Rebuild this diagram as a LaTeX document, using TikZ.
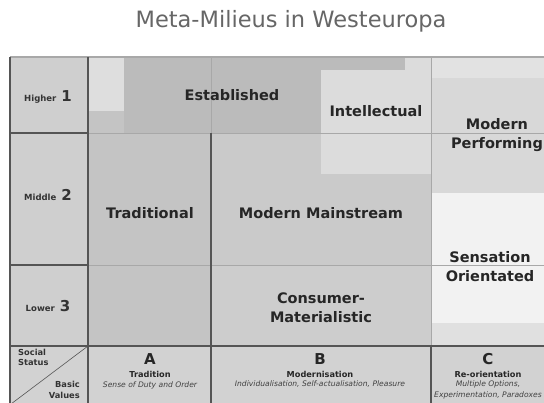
\documentclass[tikz,border=0pt]{standalone}
\usepackage{fontspec}
\setmainfont{DejaVu Sans}
\definecolor{cLeft}{HTML}{CFCFCF}
\definecolor{cBottom}{HTML}{D2D2D2}
\definecolor{cLightA}{HTML}{DEDEDE}
\definecolor{cA}{HTML}{C4C4C4}
\definecolor{cEst}{HTML}{BBBBBB}
\definecolor{cInt}{HTML}{DCDCDC}
\definecolor{cB}{HTML}{CACACA}
\definecolor{cBlow}{HTML}{CDCDCD}
\definecolor{cCtop}{HTML}{E2E2E2}
\definecolor{cPerf}{HTML}{D8D8D8}
\definecolor{cSens}{HTML}{F2F2F2}
\definecolor{cClow}{HTML}{E0E0E0}
\definecolor{cLine}{HTML}{555555}
\definecolor{cFaint}{HTML}{A8A8A8}
\definecolor{cTitle}{HTML}{666666}
\newcommand{\mybignum}{\bfseries\fontsize{15}{16}\selectfont}
\tikzset{
  milieu/.style={font=\bfseries\fontsize{14.5}{19.5}\selectfont, text=black!85, align=center, inner sep=0pt},
  rowlab/.style={font=\bfseries\fontsize{8.5}{9}\selectfont, text=black!80, inner sep=0pt},
  colhead/.style={font=\bfseries\fontsize{15}{16}\selectfont, text=black!85, inner sep=0pt},
  colname/.style={font=\bfseries\fontsize{8.2}{9}\selectfont, text=black!85, inner sep=0pt},
  coldesc/.style={font=\itshape\fontsize{7.6}{11}\selectfont, text=black!75, align=center, inner sep=0pt},
  mainline/.style={draw=cLine, line width=1.1pt},
  faintline/.style={draw=cFaint, line width=0.8pt},
}
\begin{document}
\begin{tikzpicture}[x=1pt,y=-1pt]
\useasboundingbox (0,0) rectangle (544,403);
\begin{scope}
\clip (0,0) rectangle (544,403);
\fill[white] (0,0) rectangle (544,403);
% left column and bottom row
\fill[cLeft] (10,57) rectangle (88,346);
\fill[cBottom] (10,346) rectangle (560,420);
% column A
\fill[cA] (88,57) rectangle (211,346);
\fill[cLightA] (88,57) rectangle (124,111);
% Established
\fill[cEst] (124,57) rectangle (405,133);
% column B
\fill[cB] (211,133) rectangle (431,265);
\fill[cBlow] (211,265) rectangle (431,346);
% Intellectual
\fill[cInt] (321,70) rectangle (431,174);
\fill[cInt] (405,57) rectangle (431,70);
% column C
\fill[cCtop] (431,57) rectangle (560,78);
\fill[cPerf] (431,78) rectangle (560,193);
\fill[cSens] (431,193) rectangle (560,323);
\fill[cClow] (431,323) rectangle (560,346);
% faint lines
\draw[faintline] (88,133) -- (560,133);
\draw[faintline] (88,265) -- (560,265);
\draw[faintline] (211,57) -- (211,133);
\draw[faintline] (431,57) -- (431,346);
% main lines
\draw[draw=cFaint, line width=1.2pt] (10,57) -- (560,57);
\draw[mainline] (10,57) -- (10,420);
\draw[mainline] (88,57) -- (88,420);
\draw[mainline] (10,133) -- (88,133);
\draw[mainline] (10,265) -- (88,265);
\draw[mainline] (10,346) -- (560,346);
\draw[mainline] (211,133) -- (211,420);
\draw[mainline] (431,346) -- (431,420);
% diagonal
\coordinate (dlow) at (11,404);
\coordinate (dhigh) at (88,346);
\draw[draw=cLine, line width=0.6pt] (dlow) -- (dhigh);
\end{scope}
% title
\node[font=\fontsize{22.5}{25}\selectfont, text=cTitle, inner sep=0pt] (title) at (291,21) {Meta-Milieus in Westeuropa};
% row labels
\node[rowlab] (higher) at (48,97) {Higher\hspace{5pt}{\mybignum 1}};
\node[rowlab] (middle) at (48,195) {Middle\hspace{5pt}{\mybignum 2}};
\node[rowlab] (lower) at (48,306) {Lower\hspace{5pt}{\mybignum 3}};
\node[rowlab, anchor=north west, align=left, font=\bfseries\fontsize{8.3}{10}\selectfont] (social) at (18,349) {Social\\Status};
\node[rowlab, anchor=south east, align=right, font=\bfseries\fontsize{8.3}{11}\selectfont] (basic) at (80,399) {Basic\\Values};
% milieus
\node[milieu] (est) at (232,95) {Established};
\node[milieu] (int) at (376,111) {Intellectual};
\node[milieu] (perf) at (497,135) {Modern\\Performing};
\node[milieu] (trad) at (150,213) {Traditional};
\node[milieu] (main) at (321,213) {Modern Mainstream};
\node[milieu] (sens) at (490,266.5) {Sensation\\Orientated};
\node[milieu] (cons) at (321,307.5) {Consumer-\\Materialistic};
% column heads
\node[colhead] (A) at (150,359) {A};
\node[colname] (Aname) at (150,374) {Tradition};
\node[coldesc] (Adesc) at (150,385) {Sense of Duty and Order};
\node[colhead] (B) at (320,359) {B};
\node[colname] (Bname) at (320,374) {Modernisation};
\node[coldesc] (Bdesc) at (320,384) {Individualisation, Self-actualisation, Pleasure};
\node[colhead] (C) at (488,359) {C};
\node[colname] (Cname) at (488,374) {Re-orientation};
\node[coldesc] (Cdesc) at (488,389.5) {Multiple Options,\\Experimentation, Paradoxes};
\end{tikzpicture}
\end{document}
